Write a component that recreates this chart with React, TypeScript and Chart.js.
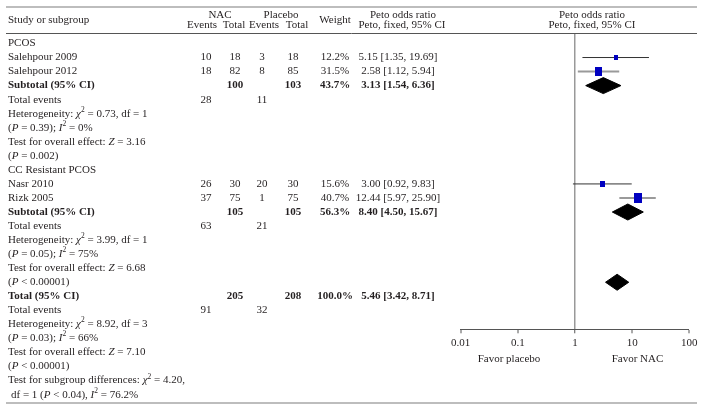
import React, { useEffect, useRef } from "react";
import { Chart, registerables } from "chart.js";

Chart.register(...registerables);

// ---------- data ----------
const groupNames = ["PCOS", "CC Resistant PCOS"];
const groupRows = [0, 9];

const studyNames = ["Salehpour 2009", "Salehpour 2012", "Nasr 2010", "Rizk 2005"];
const studyRows = [1, 2, 10, 11];
const nacEvents = [10, 18, 26, 37];
const nacTotal = [18, 82, 30, 75];
const placeboEvents = [3, 8, 20, 1];
const placeboTotal = [18, 85, 30, 75];
const studyWeights = [12.2, 31.5, 15.6, 40.7];
const studyOR = [5.15, 2.58, 3.0, 12.44];
const studyLow = [1.35, 1.12, 0.92, 5.97];
const studyHigh = [19.69, 5.94, 9.83, 25.9];

const summaryNames = ["Subtotal (95% CI)", "Subtotal (95% CI)", "Total (95% CI)"];
const summaryRows = [3, 12, 18];
const summaryDiamondRows = [3, 12, 17];
const summaryNacTotal = [100, 105, 205];
const summaryPlaceboTotal = [103, 105, 208];
const summaryWeights = [43.7, 56.3, 100.0];
const summaryOR = [3.13, 8.4, 5.46];
const summaryLow = [1.54, 4.5, 3.42];
const summaryHigh = [6.36, 15.67, 8.71];

const eventsRows = [4, 13, 19];
const eventsNac = [28, 63, 91];
const eventsPlacebo = [11, 21, 32];
const hetChi2 = ["0.73", "3.99", "8.92"];
const hetDf = [1, 1, 3];
const hetP = ["= 0.39", "= 0.05", "= 0.03"];
const hetI2 = ["0%", "75%", "66%"];
const effectZ = ["3.16", "6.68", "7.10"];
const effectP = ["= 0.002", "< 0.00001", "< 0.00001"];

const subgroupChi2 = "4.20";
const subgroupDf = 1;
const subgroupP = "< 0.04";
const subgroupI2 = "76.2%";

const xTicks = [0.01, 0.1, 1, 10, 100];
const favorLabels = ["Favor placebo", "Favor NAC"];

// ---------- layout / style constants ----------
const W = 704;
const H = 411;
const FONT = '"Liberation Serif", "Times New Roman", serif';
const TEXT = "#231f20";
const Y_MIN = -0.71;
const Y_MAX = 20.35;
const DIAMOND_HALF = 0.57;
const COL = { name: 8, nacEv: 206, nacTot: 235, plEv: 262, plTot: 293, wt: 335, or: 398 };

type Seg = { t: string; it?: boolean; sup?: boolean };

function fmt2(v: number) {
  return v.toFixed(2);
}

function drawRich(ctx: CanvasRenderingContext2D, segs: Seg[], x: number, y: number, bold = false) {
  let cx = x;
  for (const s of segs) {
    const fs = s.sup ? 7.5 : 11;
    ctx.font = `${s.it ? "italic " : ""}${bold ? "bold " : ""}${fs}px ${FONT}`;
    ctx.fillText(s.t, cx, s.sup ? y - 4 : y);
    cx += ctx.measureText(s.t).width;
  }
}

function makeBox(weight: number) {
  const w = Math.round(1.25 * Math.sqrt(weight));
  const h = Math.round(w * 1.25);
  const c = document.createElement("canvas");
  c.width = w;
  c.height = h;
  const g = c.getContext("2d")!;
  g.fillStyle = "#0000c0";
  g.fillRect(0, 0, w, h);
  return c;
}

const tablePlugin = {
  id: "forestTable",
  afterDraw(chart: any) {
    const ctx: CanvasRenderingContext2D = chart.ctx;
    const ys = chart.scales.y;
    const rowY = (r: number) => ys.getPixelForValue(r);
    ctx.save();
    ctx.fillStyle = TEXT;
    ctx.textBaseline = "middle";

    // rules
    ctx.strokeStyle = "#a8a8a8";
    ctx.lineWidth = 1.5;
    ctx.beginPath();
    ctx.moveTo(6, 7);
    ctx.lineTo(697, 7);
    ctx.moveTo(6, 403);
    ctx.lineTo(697, 403);
    ctx.stroke();
    ctx.strokeStyle = "#555";
    ctx.lineWidth = 1;
    ctx.beginPath();
    ctx.moveTo(6, 33.5);
    ctx.lineTo(697, 33.5);
    ctx.stroke();

    const txt = (s: string, x: number, y: number, align: CanvasTextAlign = "center", bold = false) => {
      ctx.font = `${bold ? "bold " : ""}11px ${FONT}`;
      ctx.textAlign = align;
      ctx.fillText(s, x, y);
    };

    // headers
    txt("Study or subgroup", COL.name, 20.5, "left");
    txt("NAC", 220, 15);
    txt("Events", 202, 25.5);
    txt("Total", 234, 25.5);
    txt("Placebo", 281, 15);
    txt("Events", 264, 25.5);
    txt("Total", 297, 25.5);
    txt("Weight", 335, 20.5);
    txt("Peto odds ratio", 403, 15);
    txt("Peto, fixed, 95% CI", 402, 25.5);
    txt("Peto odds ratio", 592, 15);
    txt("Peto, fixed, 95% CI", 592, 25.5);

    // groups
    groupNames.forEach((g, i) => txt(g, COL.name, rowY(groupRows[i]), "left"));

    // studies
    studyNames.forEach((n, i) => {
      const y = rowY(studyRows[i]);
      txt(n, COL.name, y, "left");
      txt(String(nacEvents[i]), COL.nacEv, y);
      txt(String(nacTotal[i]), COL.nacTot, y);
      txt(String(placeboEvents[i]), COL.plEv, y);
      txt(String(placeboTotal[i]), COL.plTot, y);
      txt(studyWeights[i].toFixed(1) + "%", COL.wt, y);
      txt(`${fmt2(studyOR[i])} [${fmt2(studyLow[i])}, ${fmt2(studyHigh[i])}]`, COL.or, y);
    });

    // summaries
    summaryNames.forEach((n, i) => {
      const y = rowY(summaryRows[i]);
      txt(n, COL.name, y, "left", true);
      txt(String(summaryNacTotal[i]), COL.nacTot, y, "center", true);
      txt(String(summaryPlaceboTotal[i]), COL.plTot, y, "center", true);
      txt(summaryWeights[i].toFixed(1) + "%", COL.wt, y, "center", true);
      txt(`${fmt2(summaryOR[i])} [${fmt2(summaryLow[i])}, ${fmt2(summaryHigh[i])}]`, COL.or, y, "center", true);
    });

    // events + statistics
    eventsRows.forEach((r, i) => {
      txt("Total events", COL.name, rowY(r), "left");
      txt(String(eventsNac[i]), COL.nacEv, rowY(r));
      txt(String(eventsPlacebo[i]), COL.plEv, rowY(r));
      ctx.textAlign = "left";
      drawRich(
        ctx,
        [{ t: "Heterogeneity: " }, { t: "χ", it: true }, { t: "2", sup: true }, { t: ` = ${hetChi2[i]}, df = ${hetDf[i]}` }],
        COL.name,
        rowY(r + 1)
      );
      drawRich(
        ctx,
        [{ t: "(" }, { t: "P", it: true }, { t: ` ${hetP[i]}); ` }, { t: "I", it: true }, { t: "2", sup: true }, { t: ` = ${hetI2[i]}` }],
        COL.name,
        rowY(r + 2)
      );
      drawRich(ctx, [{ t: "Test for overall effect: " }, { t: "Z", it: true }, { t: ` = ${effectZ[i]}` }], COL.name, rowY(r + 3));
      drawRich(ctx, [{ t: "(" }, { t: "P", it: true }, { t: ` ${effectP[i]})` }], COL.name, rowY(r + 4));
    });

    ctx.textAlign = "left";
    drawRich(
      ctx,
      [{ t: "Test for subgroup differences: " }, { t: "χ", it: true }, { t: "2", sup: true }, { t: ` = ${subgroupChi2},` }],
      COL.name,
      rowY(24)
    );
    drawRich(
      ctx,
      [{ t: `df = ${subgroupDf} (` }, { t: "P", it: true }, { t: ` ${subgroupP}), ` }, { t: "I", it: true }, { t: "2", sup: true }, { t: ` = ${subgroupI2}` }],
      COL.name + 3,
      rowY(25)
    );

    // favour labels
    txt(favorLabels[0], 509, 359);
    txt(favorLabels[1], 637.5, 359);

    ctx.restore();
  },
};

export default function App() {
  const ref = useRef<HTMLCanvasElement | null>(null);

  useEffect(() => {
    if (!ref.current) return;

    const ciSets = studyNames.map((n, i) => {
      const heavy = studyWeights[i] > 25;
      return {
        type: "line" as const,
        label: n + " CI",
        data: [
          { x: studyLow[i], y: studyRows[i] },
          { x: studyHigh[i], y: studyRows[i] },
        ],
        borderColor: heavy ? "#9a9a9a" : "#333",
        borderWidth: heavy ? 2 : 1,
        pointRadius: 0,
        fill: false,
      };
    });

    const boxSet = {
      type: "scatter" as const,
      label: "Peto OR",
      data: studyNames.map((_, i) => ({ x: studyOR[i], y: studyRows[i] })),
      pointStyle: studyWeights.map((w) => makeBox(w)),
      pointRadius: 3,
      backgroundColor: "#0000c0",
      borderColor: "#0000c0",
    };

    const diamondSets = summaryNames.map((n, i) => {
      const r = summaryDiamondRows[i];
      return {
        type: "line" as const,
        label: n,
        data: [
          { x: summaryLow[i], y: r },
          { x: summaryOR[i], y: r - DIAMOND_HALF },
          { x: summaryHigh[i], y: r },
          { x: summaryOR[i], y: r + DIAMOND_HALF },
          { x: summaryLow[i], y: r },
        ],
        borderColor: "#000",
        backgroundColor: "#000",
        borderWidth: 1,
        pointRadius: 0,
        tension: 0,
        fill: "shape",
      };
    });

    const chart = new Chart(ref.current, {
      type: "scatter",
      data: { datasets: [boxSet, ...diamondSets, ...ciSets] as any },
      options: {
        animation: false,
        responsive: false,
        devicePixelRatio: 1,
        layout: { padding: { left: 460.7, right: 14.7, top: 33.5, bottom: 58.5 } },
        plugins: { legend: { display: false }, tooltip: { enabled: false } },
        scales: {
          x: {
            type: "logarithmic",
            min: 0.01,
            max: 100,
            afterBuildTicks: (s: any) => {
              s.ticks = xTicks.map((v) => ({ value: v }));
            },
            afterFit: (s: any) => {
              s.paddingLeft = 0;
              s.paddingRight = 0;
            },
            ticks: {
              autoSkip: false,
              maxRotation: 0,
              padding: 3,
              color: TEXT,
              font: { family: FONT, size: 11 },
              callback: (v: any) => String(v),
            },
            grid: {
              drawOnChartArea: true,
              drawTicks: true,
              tickLength: 4,
              tickWidth: 1,
              tickColor: "#555",
              color: (c: any) => (c.tick && c.tick.value === 1 ? "#999" : "rgba(0,0,0,0)"),
              lineWidth: (c: any) => (c.tick && c.tick.value === 1 ? 1.5 : 0),
            },
            border: { display: true, color: "#555", width: 1 },
          },
          y: {
            type: "linear",
            reverse: true,
            min: Y_MIN,
            max: Y_MAX,
            display: false,
          },
        },
      },
      plugins: [tablePlugin],
    } as any);

    return () => chart.destroy();
  }, []);

  return (
    <div style={{ position: "fixed", left: 0, top: 0, width: W, height: H, background: "#fff" }}>
      <canvas ref={ref} width={W} height={H} style={{ width: W, height: H, display: "block" }} />
    </div>
  );
}
